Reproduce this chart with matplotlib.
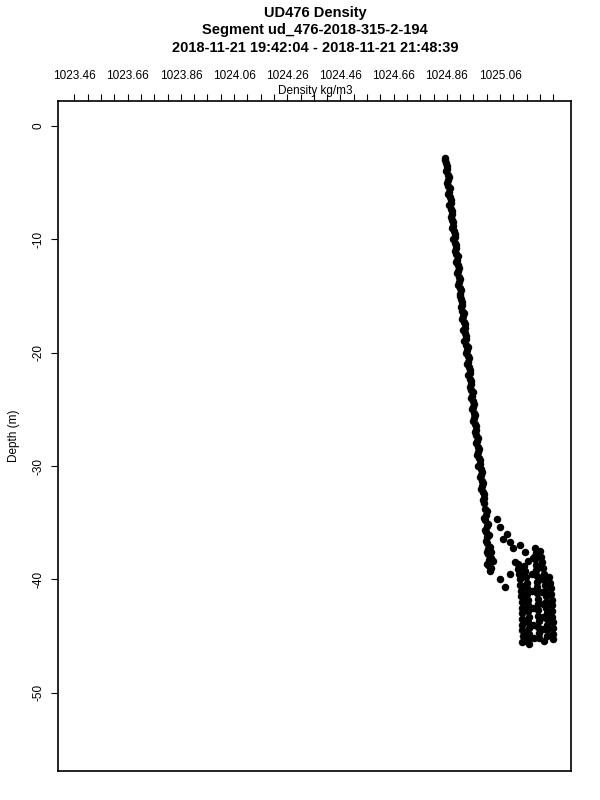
import numpy as np
import matplotlib
matplotlib.use("Agg")
import matplotlib.pyplot as plt

plt.rcParams['font.family'] = ['Liberation Sans', 'DejaVu Sans']
plt.rcParams['axes.unicode_minus'] = False

# straight part of the profile (down cast)
upper_depth = [-2.8, -3.3, -3.8, -4.3, -4.8, -5.3, -5.8, -6.3, -6.8, -7.3,
               -7.8, -8.3, -8.8, -9.3, -9.8, -10.3, -10.8, -11.3, -11.8, -12.3,
               -12.8, -13.3, -13.8, -14.3, -14.8, -15.3, -15.8, -16.3, -16.8, -17.3,
               -17.8, -18.3, -18.8, -19.3, -19.8, -20.3, -20.8, -21.3, -21.8, -22.3,
               -22.8, -23.3, -23.8, -24.3, -24.8, -25.3, -25.8, -26.3, -26.8, -27.3,
               -27.8, -28.3, -28.8, -29.3, -29.8, -30.3, -30.8, -31.3, -31.8, -32.3,
               -32.8, -33.3]
upper_dens = [1024.855, 1024.858, 1024.859, 1024.863, 1024.864, 1024.866, 1024.870, 1024.871, 1024.874, 1024.876,
              1024.880, 1024.880, 1024.885, 1024.886, 1024.889, 1024.891, 1024.893, 1024.896, 1024.897, 1024.901,
              1024.903, 1024.905, 1024.907, 1024.910, 1024.911, 1024.915, 1024.916, 1024.918, 1024.922, 1024.923,
              1024.927, 1024.928, 1024.931, 1024.934, 1024.935, 1024.939, 1024.940, 1024.943, 1024.946, 1024.947,
              1024.951, 1024.952, 1024.955, 1024.958, 1024.959, 1024.963, 1024.964, 1024.967, 1024.970, 1024.971,
              1024.975, 1024.976, 1024.979, 1024.982, 1024.983, 1024.987, 1024.988, 1024.991, 1024.993, 1024.996,
              1024.998, 1025.001]

# straight part of the profile (up cast)
upcast_depth = [-3.0, -3.5, -4.0, -4.5, -5.0, -5.5, -6.0, -6.5, -7.0, -7.5,
                -8.0, -8.5, -9.0, -9.5, -10.0, -10.5, -11.0, -11.5, -12.0, -12.5,
                -13.0, -13.5, -14.0, -14.5, -15.0, -15.5, -16.0, -16.5, -17.0, -17.5,
                -18.0, -18.5, -19.0, -19.5, -20.0, -20.5, -21.0, -21.5, -22.0, -22.5,
                -23.0, -23.5, -24.0, -24.5, -25.0, -25.5, -26.0, -26.5, -27.0, -27.5,
                -28.0, -28.5, -29.0, -29.5, -30.0, -30.5, -31.0, -31.5, -32.0, -32.5,
                -33.0]
upcast_dens = [1024.853, 1024.861, 1024.856, 1024.867, 1024.861, 1024.871, 1024.866, 1024.876, 1024.870, 1024.881,
               1024.876, 1024.885, 1024.881, 1024.891, 1024.884, 1024.895, 1024.889, 1024.901, 1024.894, 1024.905,
               1024.899, 1024.910, 1024.903, 1024.914, 1024.908, 1024.919, 1024.912, 1024.923, 1024.917, 1024.928,
               1024.922, 1024.933, 1024.926, 1024.938, 1024.932, 1024.943, 1024.936, 1024.948, 1024.941, 1024.952,
               1024.946, 1024.957, 1024.950, 1024.962, 1024.955, 1024.967, 1024.960, 1024.971, 1024.965, 1024.976,
               1024.970, 1024.981, 1024.975, 1024.986, 1024.979, 1024.991, 1024.984, 1024.996, 1024.989, 1025.000,
               1024.995]

# continuation below 33 m
streak_depth = [-33.8, -34.3, -34.8, -35.3, -35.8, -36.3, -36.8, -37.3, -37.8, -38.3, -38.8, -39.3,
                -34.0, -34.6, -35.1, -35.6, -36.1, -36.6, -37.1, -37.6, -38.1, -38.6, -39.0]
streak_dens = [1025.003, 1025.006, 1025.005, 1025.010, 1025.009, 1025.013,
               1025.012, 1025.016, 1025.015, 1025.020, 1025.019, 1025.024,
               1025.010, 1024.999, 1025.014, 1025.002, 1025.018, 1025.006,
               1025.021, 1025.010, 1025.025, 1025.013, 1025.028]

# scattered points between the streak and the bottom cluster
scatter_depth = [-34.7, -35.4, -36.0, -36.4, -36.7, -37.2, -37.0, -37.6, -38.4, -38.1,
                 -37.9, -38.5, -39.1, -39.5, -40.7, -40.0, -38.4, -37.6]
scatter_dens = [1025.047, 1025.060, 1025.085, 1025.072, 1025.097, 1025.110, 1025.135, 1025.154, 1025.166, 1025.185,
                1025.191, 1025.116, 1025.128, 1025.097, 1025.078, 1025.060, 1025.034, 1025.028]

# bottom cluster, left column
left_depth = [-38.6, -39.0, -39.5, -40.0, -40.5, -41.0, -41.5, -42.0, -42.5, -43.0,
              -43.5, -44.0, -44.5, -45.0, -45.5,
              -38.8, -39.3, -39.8, -40.3, -40.8, -41.3, -41.8, -42.3, -42.8, -43.3,
              -43.8, -44.3, -44.8, -45.3, -45.7,
              -39.6, -40.6, -41.6, -42.6, -43.6, -44.6, -45.4]
left_dens = [1025.128, 1025.131, 1025.133, 1025.136, 1025.137, 1025.139, 1025.140, 1025.142, 1025.141, 1025.143,
             1025.142, 1025.144, 1025.143, 1025.145, 1025.144,
             1025.150, 1025.155, 1025.158, 1025.160, 1025.162, 1025.163, 1025.165, 1025.166, 1025.167, 1025.168,
             1025.167, 1025.169, 1025.168, 1025.170, 1025.168,
             1025.146, 1025.150, 1025.153, 1025.154, 1025.155, 1025.156, 1025.157]

# bottom cluster, right column
right_depth = [-37.2, -37.7, -38.2, -38.7, -39.2, -39.7, -40.2, -40.7, -41.2, -41.7,
               -42.2, -42.7, -43.2, -43.7, -44.2, -44.7, -45.2,
               -37.5, -38.0, -38.5, -39.0, -39.5, -40.0, -40.5, -41.0, -41.5,
               -42.0, -42.5, -43.0, -43.5, -44.0, -44.5, -45.0,
               -39.8, -40.3, -40.8, -41.3, -41.8, -42.3, -42.8, -43.3, -43.8,
               -44.3, -44.8, -45.3,
               -39.5, -41.0, -42.5, -44.0, -45.2,
               -38.9, -40.0, -41.1, -42.2, -43.3, -44.4, -45.4]
right_dens = [1025.192, 1025.195, 1025.193, 1025.197, 1025.196, 1025.199, 1025.198, 1025.201, 1025.200, 1025.203,
              1025.202, 1025.204, 1025.203, 1025.205, 1025.204, 1025.206, 1025.205,
              1025.212, 1025.216, 1025.219, 1025.222, 1025.225, 1025.227, 1025.229, 1025.231, 1025.232,
              1025.233, 1025.234, 1025.235, 1025.236, 1025.237, 1025.237, 1025.238,
              1025.245, 1025.248, 1025.250, 1025.252, 1025.254, 1025.255, 1025.256, 1025.257, 1025.258,
              1025.259, 1025.260, 1025.261,
              1025.180, 1025.182, 1025.185, 1025.184, 1025.186,
              1025.212, 1025.216, 1025.218, 1025.220, 1025.222, 1025.222, 1025.224]

x_labels = ["1023.46", "1023.66", "1023.86", "1024.06", "1024.26",
            "1024.46", "1024.66", "1024.86", "1025.06"]
x_tick_start = 1023.46
x_tick_step = 0.05
x_tick_count = 37
y_ticks = [0, -10, -20, -30, -40, -50]

title = ("UD476 Density\nSegment ud_476-2018-315-2-194\n"
         "2018-11-21 19:42:04 - 2018-11-21 21:48:39")


fig = plt.figure(figsize=(6, 8), dpi=100)
ax = fig.add_axes([58 / 600, 1 - 771 / 800, 513 / 600, 670 / 800])

for dep, den in [(upper_depth, upper_dens), (upcast_depth, upcast_dens),
                 (streak_depth, streak_dens), (scatter_depth, scatter_dens),
                 (left_depth, left_dens), (right_depth, right_dens)]:
    ax.plot(den, dep, 'o', color='k', markersize=5.4, markeredgewidth=0)

ax.set_xlim(1023.398, 1025.327)
ax.set_ylim(-56.9, 2.2)

# ticks every 0.05, labels on every fourth one
xlocs = [x_tick_start + i * x_tick_step for i in range(x_tick_count)]
xtl = ["" for _ in xlocs]
for i, s in enumerate(x_labels):
    xtl[i * 4] = s
ax.xaxis.tick_top()
ax.set_xticks(xlocs)
ax.set_xticklabels(xtl)
ax.tick_params(axis='x', which='both', direction='out', length=5, width=0.8,
               labelsize=8.5, pad=9, top=True, bottom=False)

ax.set_yticks(y_ticks)
ax.set_yticklabels([str(v) for v in y_ticks])
ax.tick_params(axis='y', which='both', direction='out', length=5, width=0.8,
               labelsize=8.5, pad=5)
for lab in ax.get_yticklabels():
    lab.set_rotation(90)
    lab.set_va('center')

for sp in ax.spines.values():
    sp.set_linewidth(1.2)

ax.set_ylabel("Depth (m)", fontsize=8.5, labelpad=9)
fig.text(315 / 600, 1 - 91 / 800, "Density kg/m3", ha='center', va='center', fontsize=8.5)
fig.text(315 / 600, 1 - 6 / 800, title, ha='center', va='top', fontsize=10.5,
         fontweight='bold', linespacing=1.3)

fig.savefig("out.png", dpi=100)
